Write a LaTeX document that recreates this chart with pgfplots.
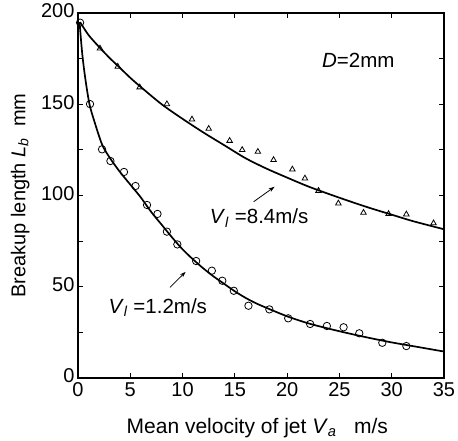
\documentclass[border=0pt]{standalone}
\usepackage{fontspec}
\setmainfont{Liberation Sans}
\usepackage{pgfplots}
\pgfplotsset{compat=1.18}
\usetikzlibrary{arrows.meta}

\newcommand{\lbl}{\fontsize{20}{22}\selectfont}

\begin{document}
\begin{tikzpicture}
\useasboundingbox (-78pt,-62pt) rectangle (380pt,378pt);
\begin{axis}[
    at={(0pt,0pt)}, anchor=south west,
    width=366pt, height=365pt, scale only axis,
    xmin=0, xmax=35, ymin=0, ymax=200,
    xtick={0,5,...,35}, ytick={0,50,...,200},
    minor ytick={25,75,125,175},
    tick align=inside,
    major tick length=5pt, minor tick length=5pt,
    axis line style={line width=1.4pt},
    tick style={line width=1pt, black},
    every tick label/.append style={font=\lbl},
    xticklabel style={yshift=-1pt},
    yticklabel style={xshift=0pt, yshift=2pt},
    /pgf/number format/assume math mode=true,
    xlabel={\fontsize{21}{22}\selectfont Mean velocity of jet \textit{V}\textsubscript{\textit{a}}\ \ \ m/s},
    ylabel={\lbl Breakup length \textit{L}\textsubscript{\textit{b}}\ \ mm},
    xlabel style={at={(axis description cs:0.49,-0.137)}, anchor=center},
    ylabel style={at={(axis description cs:-0.158,0.5)}, anchor=center},
    clip=false,
]

% fitted curves
\addplot[black, line width=1.7pt, smooth] coordinates {
  (0.2,195) (1,188) (2,181.5) (3,175.5) (4,170) (5,164.5) (6,159.5)
  (8,150) (10,142) (12,134.5) (14,127.5) (16,120.5) (18,114.8) (20,109.8)
  (22,105) (24,100.8) (26,96.8) (28,93) (30,89.5) (32,86) (35,81.5)};
\addplot[black, line width=1.7pt, smooth] coordinates {
  (0.15,195) (0.4,178) (0.7,164) (1.1,150) (1.6,140) (2.3,128) (3,121)
  (4,113) (5,106) (6,99) (7,91) (8,84) (9,77) (10,70.5) (11,65) (12,60)
  (13,55.5) (14,51.5) (15,47.5) (16,44) (17,41) (18,38.5) (20,33.8)
  (22,30) (24,27) (26,24.3) (28,21.8) (30,19.5) (32,17.5) (35,14.5)};

% V_l = 8.4 m/s
\addplot[only marks, mark=triangle, mark size=3.2pt, mark options={fill=white, line width=0.8pt}] coordinates {
  (2.1,180.6) (3.8,170.6) (5.9,159.3) (8.5,150.1) (10.9,141.7) (12.5,136.6)
  (14.5,130) (15.7,125) (17.2,124) (18.7,119.5) (20.5,114.3) (21.7,109.4)
  (23.0,102.6) (24.9,95.7) (27.3,90.6) (29.7,89.9) (31.4,89.7) (34.0,84.8)};

% V_l = 1.2 m/s
\addplot[only marks, mark=o, mark size=3.7pt, mark options={fill=white, line width=0.8pt}] coordinates {
  (0.2,194.7) (1.15,150.1) (2.3,125.3) (3.1,118.9) (4.4,112.9) (5.5,105.2)
  (6.6,94.8) (7.6,89.9) (8.5,80.2) (9.5,73.2) (11.3,64.1) (12.8,58.8)
  (13.8,53.3) (14.9,47.8) (16.3,39.6) (18.3,37.6) (20.1,32.7) (22.2,29.6)
  (23.8,28.5) (25.4,27.8) (26.9,24.5) (29.1,19.3) (31.4,17.5)};

\node[font=\fontsize{20.5}{20}\selectfont] at (axis cs:26.8,174) {\textit{D}=2mm};
\node[anchor=west, font=\fontsize{20.5}{20}\selectfont, inner sep=0pt] at (axis cs:12.6,87.7)
  {\textit{V}\textsubscript{\textit{l}} =8.4m/s};
\node[anchor=west, font=\fontsize{20.5}{20}\selectfont, inner sep=0pt] at (axis cs:2.9,38.4)
  {\textit{V}\textsubscript{\textit{l}} =1.2m/s};
\draw[line width=0.8pt, -{Stealth[length=6pt,width=4pt]}] (axis cs:16.8,96.6) -- (axis cs:18.8,104.8);
\draw[line width=0.8pt, -{Stealth[length=6pt,width=4pt]}] (axis cs:8.8,49.7) -- (axis cs:10.3,58.2);
\end{axis}
\end{tikzpicture}
\end{document}
